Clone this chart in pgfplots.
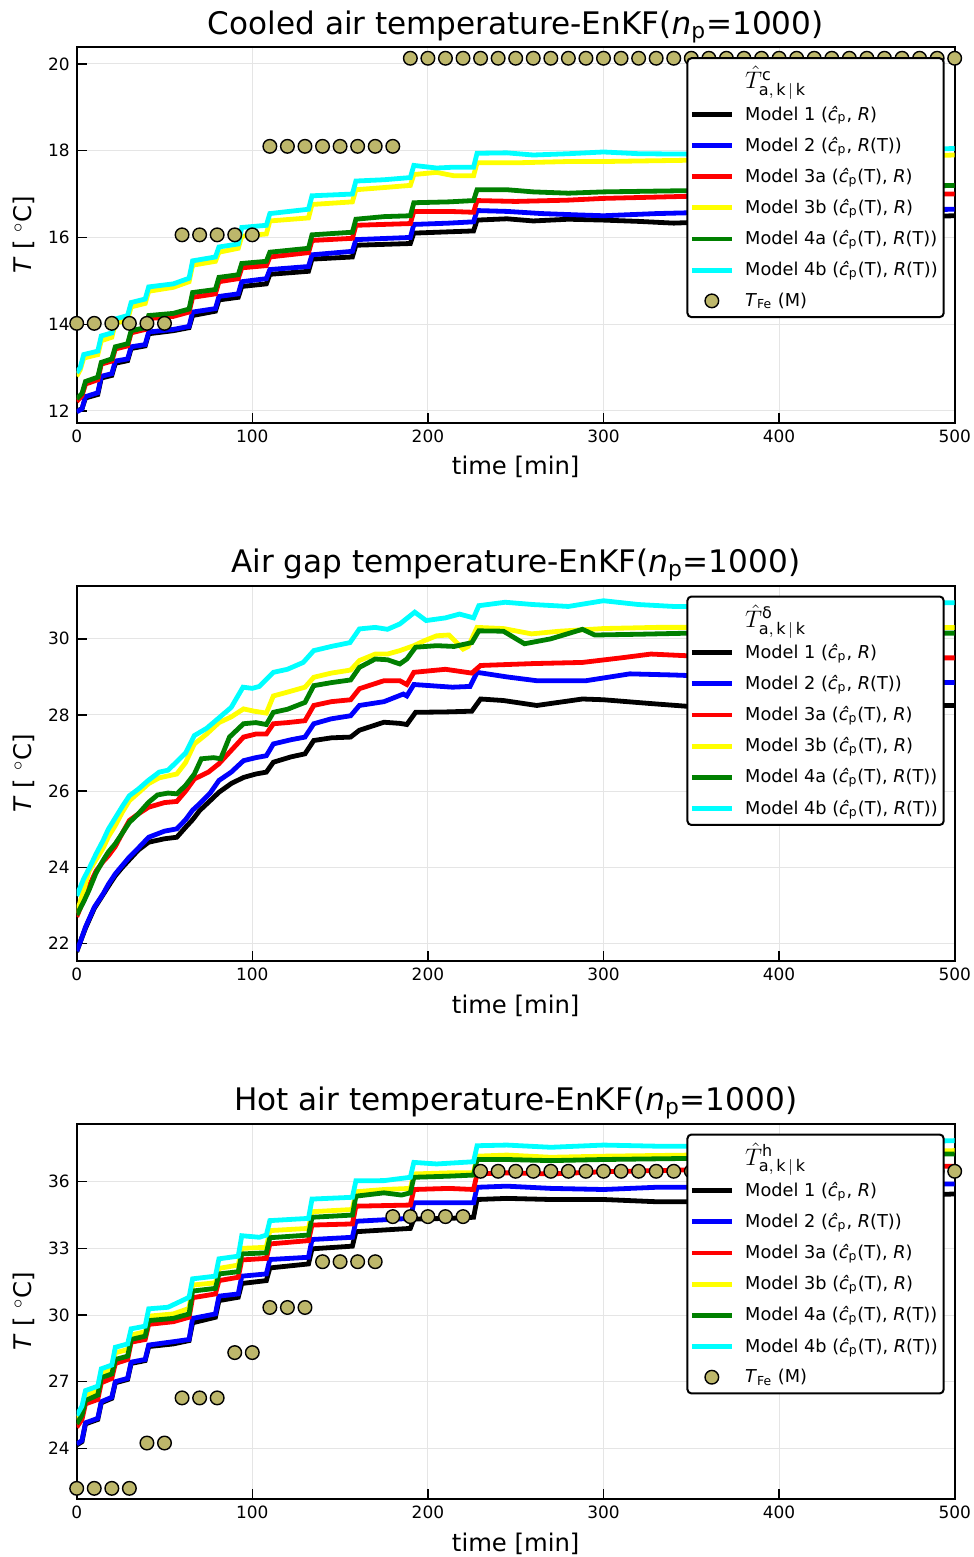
\documentclass[border=0pt]{standalone}
\usepackage{fontspec}
\setmainfont{DejaVu Sans}
\usepackage{pgfplots}
\pgfplotsset{compat=1.18}
\definecolor{khaki}{RGB}{189,183,107}
\definecolor{mgreen}{RGB}{0,128,0}
\definecolor{mcyan}{RGB}{0,255,255}
\definecolor{myellow}{RGB}{255,255,0}
\definecolor{mblue}{RGB}{0,0,255}
\definecolor{mred}{RGB}{255,0,0}
\pgfplotsset{
  mystyle/.style={
    scale only axis, width=439bp, height=187.75bp,
    xmin=0, xmax=500, xtick={0,100,...,500},
    grid=major, major grid style={black!10, line width=0.5bp},
    axis line style={line width=1bp},
    tick align=inside, tick pos=left, major tick length=5bp,
    tick style={line width=0.7bp, black},
    ticklabel style={font=\fontsize{8.5}{10}\selectfont},
    /pgf/number format/assume math mode=true,
    label style={font=\fontsize{12.2}{14}\selectfont},
    title style={font=\fontsize{15.6}{18}\selectfont, yshift=-7.5bp},
    xlabel={time [min]}, ylabel={\textit{T} [ $^\circ$C]},
    legend cell align=left,
    legend style={at={(0.9886,0.9733)}, anchor=north east, draw=black, line width=1bp,
      rounded corners=2bp, font=\fontsize{8.9}{10.5}\selectfont, row sep=3.0bp,
      column sep=3.5bp, inner xsep=1bp, inner ysep=2bp},
    legend image code/.code={\draw[mark repeat=2,mark phase=2,##1] plot coordinates {(0bp,0bp) (10bp,0bp) (20bp,0bp)};},
  },
  ln/.style={line width=2.4bp, color=#1, mark=none},
  dots/.style={only marks, mark=*, mark size=3.4bp, mark options={fill=khaki, draw=black, line width=0.7bp}},
}
\newcommand{\chat}{\textit{ĉ}\textsubscript{p}}
\newcommand{\ltitle}[1]{\addlegendimage{empty legend}\addlegendentry{\rule[-3.5bp]{0pt}{11.5bp}\fontsize{11.5}{13}\selectfont $\hat{T}^{\hbox{\fontsize{8}{9}\selectfont #1}}_{\mathrm{a,\,k\,|\,k}}$}}
\newcommand{\legs}{%
\addlegendentry{Model 1 (\chat, \textit{R})}
\addlegendentry{Model 2 (\chat, \textit{R}(T))}
\addlegendentry{Model 3a (\chat(T), \textit{R})}
\addlegendentry{Model 3b (\chat(T), \textit{R})}
\addlegendentry{Model 4a (\chat(T), \textit{R}(T))}
\addlegendentry{Model 4b (\chat(T), \textit{R}(T))}}
\begin{document}
\begin{tikzpicture}
\useasboundingbox (0,0) rectangle (487bp,-778.5bp);
% ---------------- TOP ----------------
\begin{axis}[mystyle, at={(38.35bp,-211.35bp)}, anchor=south west,
  ymin=11.73, ymax=20.385, ytick={12,14,...,20},
  title={Cooled air temperature-EnKF(\textit{n}\textsubscript{p}=1000)}]
\ltitle{c}
\addplot[ln=black] coordinates {(0,12.0) (3,12.05) (5,12.3) (12,12.38) (14,12.76) (20,12.82) (22,13.1) (29,13.16) (31,13.44) (39,13.5) (41,13.78) (55,13.85) (64,13.92) (66,14.2) (79,14.3) (81,14.56) (92,14.62) (94,14.87) (108,14.93) (110,15.15) (132,15.22) (134,15.5) (157,15.55) (159,15.82) (190,15.86) (192,16.1) (212,16.13) (226,16.15) (228,16.4) (245,16.43) (260,16.38) (280,16.42) (300,16.4) (320,16.37) (340,16.33) (360,16.36) (400,16.4) (450,16.45) (500,16.5)};
\addplot[ln=mblue] coordinates {(0,11.98) (3,12.05) (5,12.33) (12,12.42) (14,12.8) (20,12.86) (22,13.15) (29,13.2) (31,13.48) (39,13.53) (41,13.82) (55,13.88) (64,13.95) (66,14.28) (79,14.36) (81,14.64) (92,14.7) (94,14.98) (108,15.05) (110,15.26) (132,15.33) (134,15.6) (157,15.68) (159,15.95) (190,16.0) (192,16.3) (212,16.33) (226,16.36) (228,16.62) (245,16.6) (265,16.55) (285,16.52) (300,16.5) (330,16.55) (360,16.58) (400,16.6) (450,16.62) (500,16.65)};
\addplot[ln=mred] coordinates {(0,12.22) (3,12.35) (5,12.62) (12,12.72) (14,13.08) (20,13.15) (22,13.43) (29,13.5) (31,13.8) (39,13.88) (41,14.13) (55,14.18) (64,14.28) (66,14.62) (79,14.7) (81,14.98) (92,15.05) (94,15.3) (108,15.35) (110,15.55) (132,15.65) (134,15.93) (157,15.98) (159,16.28) (190,16.32) (192,16.6) (212,16.6) (226,16.58) (228,16.85) (250,16.83) (280,16.86) (300,16.9) (350,16.95) (400,16.95) (450,17.0) (500,17.0)};
\addplot[ln=myellow] coordinates {(0,12.8) (2,12.95) (4,13.22) (12,13.3) (14,13.62) (20,13.7) (22,14.02) (29,14.1) (31,14.4) (39,14.48) (41,14.76) (55,14.85) (64,14.98) (66,15.36) (79,15.45) (81,15.66) (92,15.75) (94,16.03) (108,16.08) (110,16.38) (132,16.45) (134,16.76) (157,16.82) (159,17.1) (175,17.15) (190,17.2) (192,17.45) (205,17.5) (215,17.42) (226,17.42) (228,17.72) (250,17.72) (280,17.75) (300,17.75) (350,17.78) (400,17.8) (450,17.85) (500,17.9)};
\addplot[ln=mgreen] coordinates {(0,12.28) (3,12.4) (5,12.68) (12,12.78) (14,13.12) (20,13.2) (22,13.48) (29,13.55) (31,13.85) (39,13.92) (41,14.2) (55,14.25) (64,14.35) (66,14.73) (79,14.8) (81,15.08) (92,15.14) (94,15.4) (108,15.45) (110,15.66) (132,15.75) (134,16.06) (157,16.12) (159,16.42) (175,16.48) (190,16.5) (192,16.8) (212,16.82) (226,16.85) (228,17.1) (245,17.1) (260,17.05) (280,17.02) (300,17.05) (350,17.08) (400,17.1) (450,17.15) (500,17.2)};
\addplot[ln=mcyan] coordinates {(0,12.88) (2,13.0) (4,13.3) (12,13.38) (14,13.73) (20,13.8) (22,14.12) (29,14.2) (31,14.5) (39,14.58) (41,14.86) (55,14.93) (64,15.06) (66,15.46) (79,15.55) (81,15.78) (92,15.85) (94,16.23) (108,16.28) (110,16.55) (132,16.65) (134,16.96) (157,17.0) (159,17.3) (175,17.33) (190,17.38) (192,17.66) (205,17.6) (215,17.62) (226,17.62) (228,17.94) (245,17.95) (260,17.9) (280,17.93) (300,17.97) (320,17.93) (350,17.92) (400,17.95) (450,18.0) (500,18.05)};
\legs
\addplot[dots] coordinates {(0,14.02) (10,14.02) (20,14.02) (30,14.02) (40,14.02) (50,14.02) (60,16.06) (70,16.06) (80,16.06) (90,16.06) (100,16.06) (110,18.1) (120,18.1) (130,18.1) (140,18.1) (150,18.1) (160,18.1) (170,18.1) (180,18.1) (190,20.13) (200,20.13) (210,20.13) (220,20.13) (230,20.13) (240,20.13) (250,20.13) (260,20.13) (270,20.13) (280,20.13) (290,20.13) (300,20.13) (310,20.13) (320,20.13) (330,20.13) (340,20.13) (350,20.13) (360,20.13) (370,20.13) (380,20.13) (390,20.13) (400,20.13) (410,20.13) (420,20.13) (430,20.13) (440,20.13) (450,20.13) (460,20.13) (470,20.13) (480,20.13) (490,20.13) (500,20.13)};
\addlegendentry{\textit{T}\textsubscript{Fe} (M)}
\end{axis}
% ---------------- MIDDLE ----------------
\begin{axis}[mystyle, at={(38.35bp,-480.5bp)}, anchor=south west,
  ymin=21.54, ymax=31.4, ytick={22,24,...,30},
  title={Air gap temperature-EnKF(\textit{n}\textsubscript{p}=1000)}]
\ltitle{δ}
\addplot[ln=black] coordinates {(0,21.78) (2.5,22.1) (5,22.4) (10,22.92) (15,23.28) (18,23.5) (22,23.78) (26,24.0) (30,24.2) (35,24.45) (41,24.66) (50,24.75) (57,24.79) (62,25.05) (66,25.25) (70,25.49) (76,25.75) (81,25.97) (88,26.2) (95,26.36) (102,26.45) (108,26.5) (112,26.76) (122,26.9) (130,26.98) (135,27.33) (145,27.4) (156,27.42) (161,27.6) (175,27.81) (184,27.78) (188,27.75) (193,28.07) (210,28.08) (225,28.1) (230,28.42) (243,28.38) (262,28.25) (288,28.42) (300,28.4) (327,28.3) (350,28.22) (400,28.25) (450,28.25) (500,28.25)};
\addplot[ln=mblue] coordinates {(0,21.8) (2.5,22.1) (5,22.43) (10,22.95) (15,23.3) (18,23.55) (22,23.83) (26,24.05) (30,24.27) (35,24.5) (41,24.79) (50,24.95) (57,25.01) (62,25.25) (66,25.5) (70,25.67) (76,25.95) (81,26.28) (88,26.5) (95,26.8) (102,26.88) (108,26.93) (112,27.24) (122,27.35) (130,27.42) (135,27.77) (145,27.9) (156,27.98) (161,28.25) (175,28.35) (186,28.55) (188,28.5) (192,28.8) (214,28.73) (224,28.75) (228,29.12) (245,29.0) (262,28.9) (290,28.9) (315,29.08) (340,29.05) (400,28.95) (450,28.9) (500,28.85)};
\addplot[ln=mred] coordinates {(0,22.7) (4,23.15) (7,23.5) (11,23.9) (15,24.15) (18,24.3) (22,24.55) (26,24.9) (30,25.23) (35,25.4) (41,25.58) (50,25.7) (57,25.73) (62,26.0) (67,26.32) (75,26.5) (81,26.72) (87,27.02) (95,27.42) (102,27.5) (108,27.5) (112,27.77) (120,27.8) (130,27.85) (135,28.25) (145,28.35) (156,28.4) (161,28.69) (175,28.9) (184,28.9) (188,28.8) (192,29.12) (210,29.2) (225,29.1) (230,29.3) (260,29.35) (288,29.38) (310,29.5) (327,29.6) (350,29.55) (400,29.55) (450,29.5) (500,29.5)};
\addplot[ln=myellow] coordinates {(0,22.8) (4,23.4) (7,23.9) (11,24.2) (15,24.5) (18,24.8) (22,25.1) (26,25.45) (30,25.75) (35,25.95) (41,26.2) (47,26.35) (52,26.4) (57,26.45) (62,26.75) (67,27.24) (74,27.5) (81,27.8) (88,27.95) (95,28.16) (101,28.1) (108,28.05) (112,28.5) (120,28.6) (130,28.73) (135,28.99) (145,29.1) (156,29.18) (161,29.43) (170,29.6) (177,29.6) (184,29.69) (192,29.82) (198,29.95) (205,30.08) (212,30.1) (220,29.73) (223,29.8) (228,30.3) (243,30.27) (259,30.13) (275,30.2) (300,30.27) (330,30.3) (360,30.3) (400,30.3) (450,30.25) (500,30.3)};
\addplot[ln=mgreen] coordinates {(0,22.75) (4,23.1) (7,23.4) (11,23.85) (15,24.18) (18,24.4) (22,24.62) (26,24.9) (30,25.18) (35,25.4) (41,25.71) (46,25.9) (52,25.95) (57,25.93) (62,26.15) (67,26.45) (71,26.85) (78,26.88) (82,26.85) (87,27.42) (95,27.77) (102,27.8) (108,27.75) (112,28.07) (120,28.15) (130,28.33) (135,28.77) (145,28.85) (156,28.92) (161,29.25) (170,29.47) (177,29.45) (184,29.34) (188,29.47) (193,29.78) (205,29.82) (215,29.8) (225,29.9) (229,30.21) (243,30.2) (255,29.87) (270,30.0) (288,30.25) (295,30.1) (320,30.12) (350,30.15) (400,30.2) (450,30.15) (500,30.15)};
\addplot[ln=mcyan] coordinates {(0,23.25) (4,23.7) (7.4,24.0) (11,24.35) (15,24.7) (18,25.0) (21.6,25.27) (26,25.6) (30,25.88) (35,26.05) (40.7,26.28) (47,26.5) (52,26.55) (56.7,26.76) (62,27.0) (67,27.46) (74,27.65) (81.4,27.94) (88,28.2) (94.7,28.73) (100,28.7) (104,28.75) (112,29.12) (120,29.2) (129,29.38) (135,29.69) (145,29.8) (155.6,29.9) (161,30.26) (170,30.3) (177,30.25) (184,30.39) (192.5,30.7) (199,30.48) (210,30.55) (218,30.65) (226,30.55) (229,30.87) (244,30.96) (260,30.9) (280,30.85) (300,31.0) (320,30.9) (340,30.85) (360,30.85) (400,30.9) (450,30.9) (500,30.95)};
\legs
\end{axis}
% ---------------- BOTTOM ----------------
\begin{axis}[mystyle, at={(38.35bp,-749.5bp)}, anchor=south west,
  ymin=21.72, ymax=38.62, ytick={24,27,...,36},
  title={Hot air temperature-EnKF(\textit{n}\textsubscript{p}=1000)}]
\ltitle{h}
\addplot[ln=black] coordinates {(0,24.15) (3,24.3) (5,25.1) (12,25.3) (14,26.05) (20,26.25) (22,26.95) (29,27.1) (31,27.82) (39,27.95) (41,28.58) (55,28.7) (64,28.85) (66,29.65) (79,29.9) (81,30.65) (92,30.8) (94,31.42) (108,31.55) (110,32.12) (132,32.3) (134,32.98) (157,33.1) (159,33.75) (190,33.9) (192,34.32) (212,34.35) (226,34.4) (228,35.2) (245,35.25) (270,35.2) (300,35.2) (330,35.1) (360,35.1) (400,35.2) (450,35.3) (500,35.45)};
\addplot[ln=mblue] coordinates {(0,24.2) (3,24.35) (5,25.15) (12,25.35) (14,26.1) (20,26.3) (22,27.0) (29,27.15) (31,27.88) (39,28.0) (41,28.65) (55,28.8) (64,28.9) (66,29.85) (79,30.05) (81,30.85) (92,30.95) (94,31.75) (108,31.85) (110,32.5) (132,32.6) (134,33.4) (157,33.5) (159,34.22) (190,34.35) (192,35.05) (212,35.05) (226,35.05) (228,35.75) (245,35.8) (270,35.7) (300,35.65) (330,35.75) (360,35.75) (400,35.8) (450,35.85) (500,35.9)};
\addplot[ln=mred] coordinates {(0,24.95) (3,25.3) (5,26.0) (12,26.2) (14,26.95) (20,27.15) (22,27.82) (29,28.0) (31,28.78) (39,28.9) (41,29.58) (55,29.7) (64,29.9) (66,30.78) (79,30.95) (81,31.55) (92,31.7) (94,32.48) (108,32.55) (110,33.2) (132,33.35) (134,34.05) (157,34.1) (159,34.9) (190,34.95) (192,35.65) (212,35.7) (226,35.65) (228,36.35) (245,36.4) (270,36.35) (300,36.45) (330,36.5) (360,36.55) (400,36.6) (450,36.65) (500,36.7)};
\addplot[ln=myellow] coordinates {(0,25.3) (3,25.7) (5,26.4) (12,26.6) (14,27.4) (20,27.55) (22,28.3) (29,28.45) (31,29.1) (39,29.25) (41,29.95) (55,30.05) (64,30.3) (66,31.35) (79,31.45) (81,32.1) (92,32.25) (94,33.0) (108,33.05) (110,33.8) (132,33.9) (134,34.65) (157,34.75) (159,35.55) (175,35.65) (190,35.7) (192,36.35) (212,36.4) (226,36.4) (228,37.15) (245,37.2) (270,37.1) (300,37.15) (350,37.2) (400,37.25) (450,37.35) (500,37.4)};
\addplot[ln=mgreen] coordinates {(0,25.1) (3,25.5) (5,26.15) (12,26.4) (14,27.18) (20,27.35) (22,28.0) (29,28.15) (31,28.9) (39,29.05) (41,29.75) (55,29.85) (64,30.05) (66,31.08) (79,31.2) (81,31.85) (92,31.95) (94,32.75) (108,32.8) (110,33.48) (132,33.6) (134,34.4) (157,34.5) (159,35.35) (175,35.5) (185,35.4) (190,35.5) (192,36.2) (212,36.25) (226,36.3) (228,37.0) (245,37.0) (270,36.95) (300,37.0) (350,37.05) (400,37.1) (450,37.2) (500,37.25)};
\addplot[ln=mcyan] coordinates {(0,25.48) (3,25.9) (5,26.6) (12,26.8) (14,27.58) (20,27.75) (22,28.55) (29,28.7) (31,29.38) (39,29.5) (41,30.28) (52,30.35) (64,30.8) (66,31.63) (79,31.75) (81,32.53) (92,32.65) (94,33.57) (104,33.5) (108,33.6) (110,34.25) (132,34.35) (134,35.22) (157,35.3) (159,36.04) (175,36.05) (190,36.2) (192,36.87) (205,36.8) (226,36.9) (228,37.62) (245,37.65) (270,37.55) (300,37.65) (330,37.6) (360,37.6) (400,37.7) (450,37.75) (500,37.85)};
\legs
\addplot[dots] coordinates {(0,22.2) (10,22.2) (20,22.2) (30,22.2) (40,24.24) (50,24.24) (60,26.27) (70,26.27) (80,26.27) (90,28.31) (100,28.31) (110,30.34) (120,30.34) (130,30.34) (140,32.4) (150,32.4) (160,32.4) (170,32.4) (180,34.43) (190,34.43) (200,34.43) (210,34.43) (220,34.43) (230,36.47) (240,36.47) (250,36.47) (260,36.47) (270,36.47) (280,36.47) (290,36.47) (300,36.47) (310,36.47) (320,36.47) (330,36.47) (340,36.47) (350,36.47) (360,36.47) (370,36.47) (380,36.47) (390,36.47) (400,36.47) (410,36.47) (420,36.47) (430,36.47) (440,36.47) (450,36.47) (460,36.47) (470,36.47) (480,36.47) (490,36.47) (500,36.47)};
\addlegendentry{\textit{T}\textsubscript{Fe} (M)}
\end{axis}
\end{tikzpicture}
\end{document}
